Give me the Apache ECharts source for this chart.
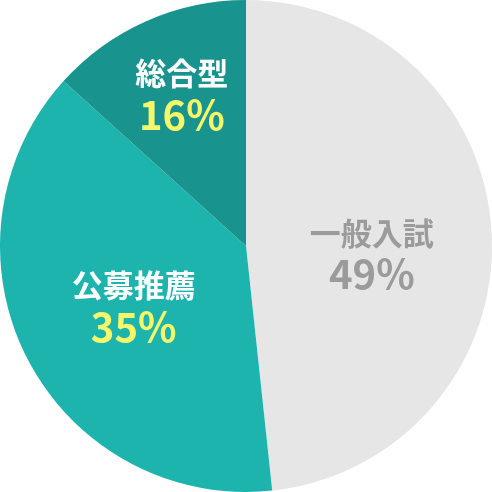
<!DOCTYPE html>
<html>
<head>
<meta charset="utf-8">
<style>
  html, body { margin: 0; padding: 0; background: #fff; }
  #chart { width: 492px; height: 492px; }
</style>
<script src="https://cdn.jsdelivr.net/npm/echarts@6/dist/echarts.min.js"></script>
</head>
<body>
<div id="chart"></div>
<script>
// 入試区分の割合
var names = ["一般入試", "公募推薦", "総合型"];
// 扇形の大きさ
var values = [48.3, 38.4, 13.3];
// 表示されているパーセント
var pctLabels = ["49%", "35%", "16%"];

(function () {
  var myChart = echarts.init(document.getElementById("chart"));
  var sliceColors = ["#e6e6e6", "#1db4ae", "#18938d"];
  var nameColors = ["#9b9b9b", "#ffffff", "#ffffff"];
  var pctColors = ["#9b9b9b", "#f6f66a", "#f6f66a"];

  var data = names.map(function (n, i) {
    return {
      name: n,
      value: values[i],
      itemStyle: { color: sliceColors[i] },
      label: {
        rich: {
          n: { fontSize: 31, fontWeight: "bold", color: nameColors[i], lineHeight: 41, fontFamily: "Noto Sans CJK JP" },
          p: { fontSize: 40, fontWeight: "bold", color: pctColors[i], lineHeight: 41, fontFamily: "Noto Sans CJK JP" }
        }
      }
    };
  });

  var option = {
    animation: false,
    series: [
      {
        type: "pie",
        center: ["50%", "50%"],
        radius: ["0%", "100%"],
        startAngle: 90,
        clockwise: true,
        silent: true,
        label: {
          show: true,
          position: "inside",
          formatter: function (p) {
            return "{n|" + p.name + "}\n{p|" + pctLabels[p.dataIndex] + "}";
          }
        },
        labelLine: { show: false },
        // ラベル位置の微調整（総合型は外側へ）
        labelLayout: function (params) {
          if (params.dataIndex === 2) {
            return { dx: -13, dy: -37 };
          }
          if (params.dataIndex === 1) {
            return { dy: 3 };
          }
          return { dy: 14 };
        },
        data: data
      }
    ]
  };
  myChart.setOption(option);
  window.addEventListener("resize", function () {
    myChart.resize();
  });
})();
</script>
</body>
</html>
